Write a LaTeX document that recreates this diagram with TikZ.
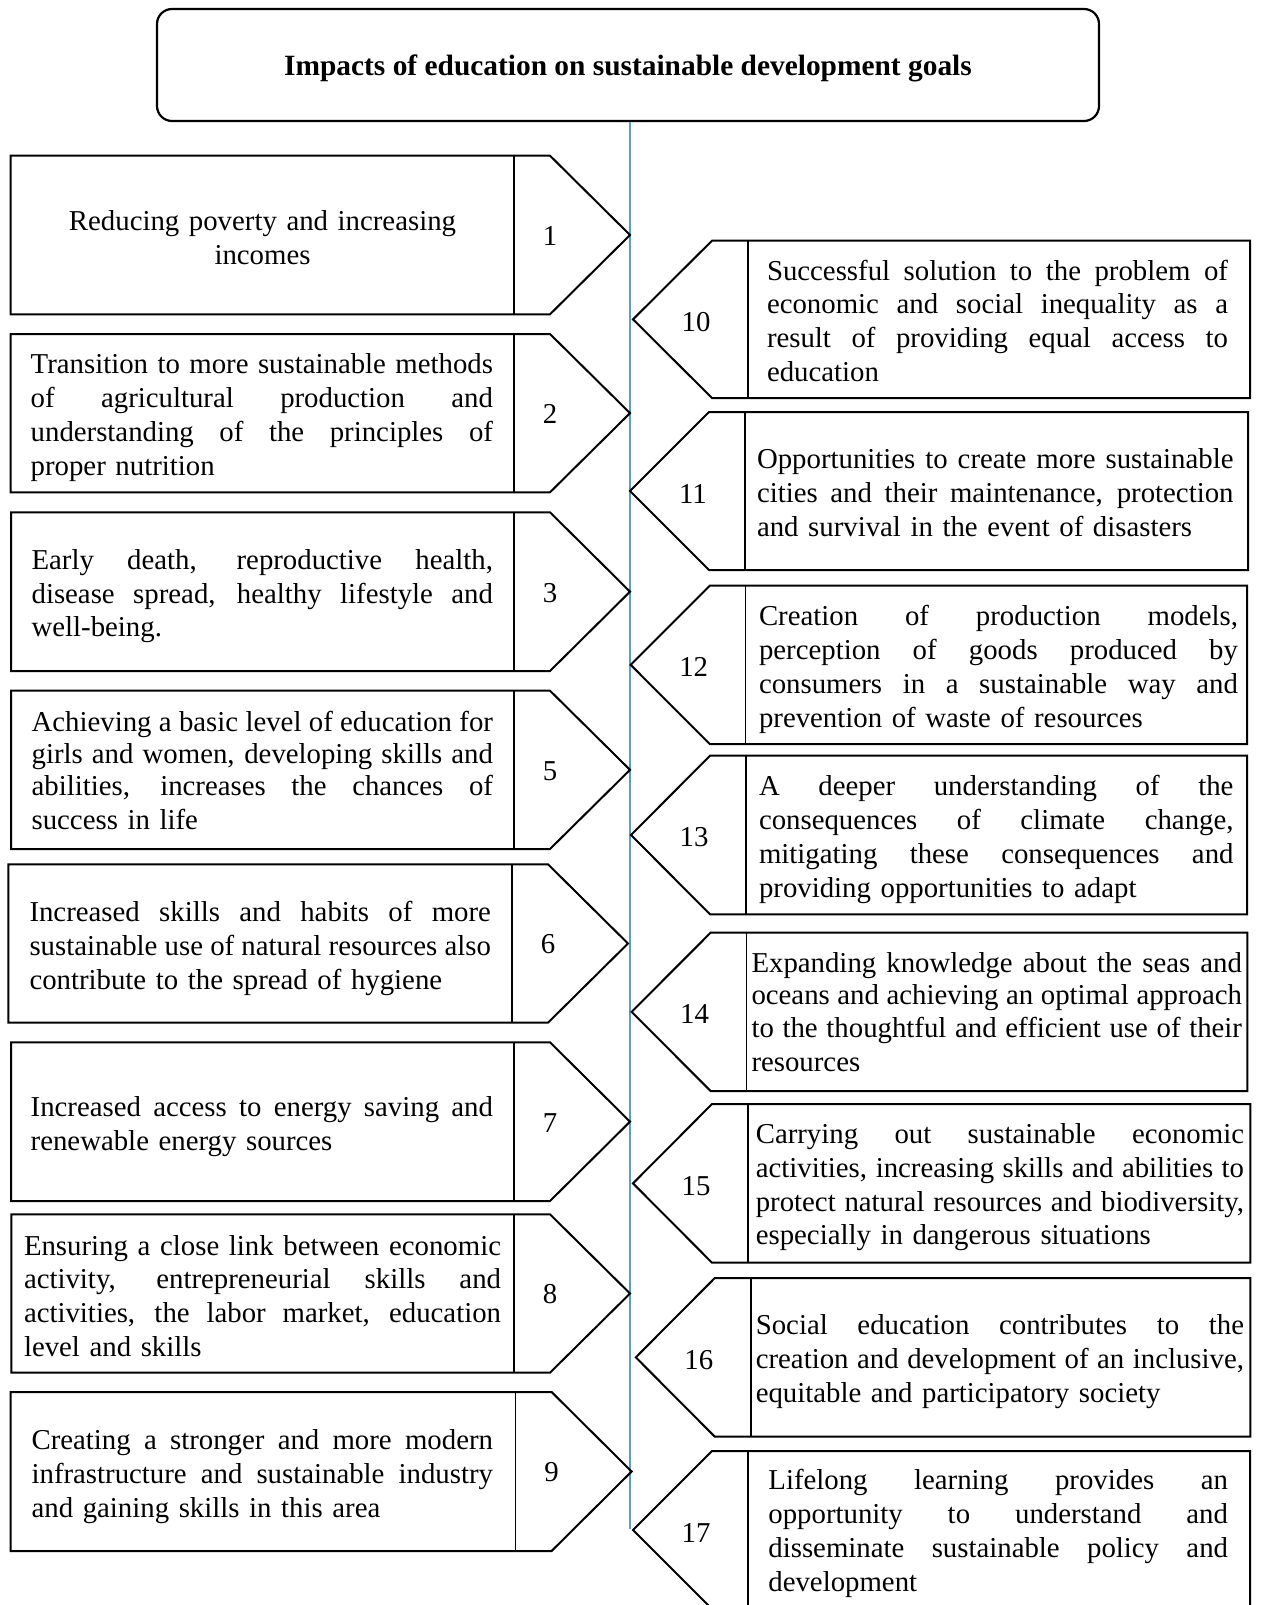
\documentclass[tikz,border=0pt]{standalone}
\usepackage{fontspec}
\setmainfont{Liberation Serif}
\definecolor{spineblue}{RGB}{91,155,213}
\def\tw{400}
\def\tyoff{4.5}
\newcommand\jl[1]{\leavevmode\hbox to \tw pt{\spaceskip=0.25em plus 1fil\xspaceskip=0.25em plus 1fil\relax #1}}
\newcommand\cl[1]{\leavevmode\hbox to \tw pt{\hss #1\hss}}
\tikzset{
  boxline/.style={draw=black, line width=2pt, line join=miter},
  divline/.style={draw=black, line width=1.4pt},
  bodytext/.style={inner sep=0pt, align=left, font=\fontsize{28.8}{33.8}\selectfont},
  numtext/.style={inner sep=0pt, font=\fontsize{28.8}{33.8}\selectfont},
  titlebox/.style={draw=black, line width=2.2pt, rounded corners=15pt, minimum width=942pt,
    minimum height=112pt, inner sep=0pt, font=\bfseries\fontsize{29.4}{34}\selectfont},
  spine/.style={draw=spineblue, line width=1.6pt}
}
% name, top, bottom, left, tip, textleft, textright, number, text
\newcommand\leftitem[9]{%
  \draw[boxline] (#4,#2) -- ({#5-80},#2) -- (#5,{(#2+#3)/2}) -- ({#5-80},#3) -- (#4,#3) -- cycle;
  \draw[divline] ({#5-116},#2) -- ({#5-116},#3);
  \node[numtext] (#1n) at ({#5-80},{(#2+#3)/2+1}) {#8};
  \pgfmathsetmacro\tw{#7-#6}%
  \node[bodytext, text width=\tw pt] (#1) at ({(#6+#7)/2},{(#2+#3)/2+\tyoff}) {#9};
}
% name, top, bottom, tip, right, textleft, textright, number, text
\newcommand\rightitem[9]{%
  \draw[boxline] (#5,#2) -- ({#4+79},#2) -- (#4,{(#2+#3)/2}) -- ({#4+79},#3) -- (#5,#3) -- cycle;
  \draw[divline] ({#4+115},#2) -- ({#4+115},#3);
  \node[numtext] (#1n) at ({#4+63},{(#2+#3)/2+2.5}) {#8};
  \pgfmathsetmacro\tw{#7-#6}%
  \node[bodytext, text width=\tw pt] (#1) at ({(#6+#7)/2},{(#2+#3)/2+\tyoff}) {#9};
}
\begin{document}
\begin{tikzpicture}[x=1pt, y=-1pt]
\useasboundingbox (0,0) rectangle (1262,1605);
\fill[white] (0,0) rectangle (1262,1605);
\clip (0,0) rectangle (1262,1605);

\node[titlebox] (title) at (628,65) {\raisebox{-11pt}[0pt][0pt]{Impacts of education on sustainable development goals}};
\coordinate (spineend) at (630,1529);
\draw[spine] (title.south -| spineend) -- (spineend);

% left column
\def\tyoff{2.5}
\leftitem{g1}{155.7}{314.3}{10.5}{630}{31}{494}{1}{%
\cl{Reducing poverty and increasing}\\\cl{incomes}}
\def\tyoff{4.5}
\leftitem{g2}{334}{492.3}{10.5}{630}{30.7}{493}{2}{\fontsize{28.8}{34}\selectfont
\jl{Transition to more sustainable methods}\\\jl{of agricultural production and}\\\jl{understanding of the principles of}\\proper nutrition}
\leftitem{g3}{512.3}{671}{11}{630}{31.6}{493}{3}{%
\jl{Early death, reproductive health,}\\\jl{disease spread, healthy lifestyle and}\\well-being.}
\def\tyoff{0.5}
\leftitem{g5}{690.7}{849}{11}{630}{31.6}{493}{5}{\fontsize{28.8}{32.4}\selectfont
\jl{Achieving a basic level of education for}\\\jl{girls and women, developing skills and}\\\jl{abilities, increases the chances of}\\success in life}
\def\tyoff{5}
\leftitem{g6}{864.3}{1022.7}{8.4}{628}{29.5}{491}{6}{%
\jl{Increased skills and habits of more}\\\jl{sustainable use of natural resources also}\\contribute to the spread of hygiene}
\leftitem{g7}{1042.3}{1201}{11}{630}{30.7}{493}{7}{%
\jl{Increased access to energy saving and}\\renewable energy sources}
\def\tyoff{2.5}
\leftitem{g8}{1214.3}{1372.7}{11.4}{630}{24}{501}{8}{%
\jl{Ensuring a close link between economic}\\\jl{activity, entrepreneurial skills and}\\\jl{activities, the labor market, education}\\level and skills}
\def\tyoff{5}
\leftitem{g9}{1392}{1551}{10.5}{631.6}{31.6}{493}{9}{%
\jl{Creating a stronger and more modern}\\\jl{infrastructure and sustainable industry}\\and gaining skills in this area}

% right column
\def\tyoff{1.5}
\rightitem{g10}{240.7}{398}{633}{1250}{767}{1228}{10}{%
\jl{Successful solution to the problem of}\\\jl{economic and social inequality as a}\\\jl{result of providing equal access to}\\education}
\rightitem{g11}{412}{570}{630}{1248}{757}{1233.5}{11}{%
\jl{Opportunities to create more sustainable}\\\jl{cities and their maintenance, protection}\\and survival in the event of disasters}
\def\tyoff{4.5}
\rightitem{g12}{585.7}{744}{630.7}{1247}{759}{1238}{12}{%
\jl{Creation of production models,}\\\jl{perception of goods produced by}\\\jl{consumers in a sustainable way and}\\prevention of waste of resources}
\rightitem{g13}{755.7}{914.3}{631}{1247}{759}{1233.5}{13}{%
\jl{A deeper understanding of the}\\\jl{consequences of climate change,}\\\jl{mitigating these consequences and}\\providing opportunities to adapt}
\def\tyoff{0}
\rightitem{g14}{932.7}{1091}{631.6}{1247.4}{751.5}{1242}{14}{\fontsize{28.8}{32.4}\selectfont
\jl{Expanding knowledge about the seas and}\\\jl{oceans and achieving an optimal approach}\\\jl{to the thoughtful and efficient use of their}\\resources}
\def\tyoff{4}
\rightitem{g15}{1104}{1262.7}{633}{1250.4}{755.8}{1244}{15}{%
\jl{Carrying out sustainable economic}\\\jl{activities, increasing skills and abilities to}\\\jl{protect natural resources and biodiversity,}\\especially in dangerous situations}
\rightitem{g16}{1278}{1436.7}{635.8}{1250.4}{755.8}{1244}{16}{%
\jl{Social education contributes to the}\\\jl{creation and development of an inclusive,}\\equitable and participatory society}
\def\tyoff{3.5}
\rightitem{g17}{1451}{1609}{633}{1250}{768.4}{1228}{17}{%
\jl{Lifelong learning provides an}\\\jl{opportunity to understand and}\\\jl{disseminate sustainable policy and}\\development}
\end{tikzpicture}
\end{document}
